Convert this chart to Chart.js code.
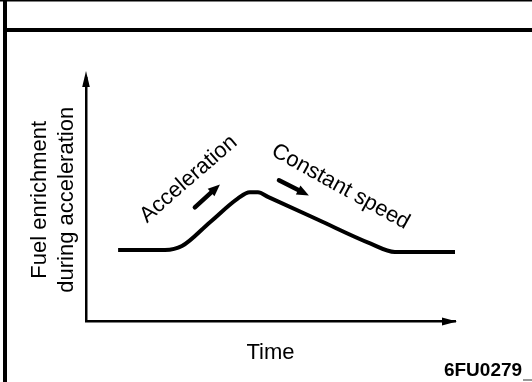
<!DOCTYPE html>
<html>
<head>
<meta charset="utf-8">
<script src="https://cdn.jsdelivr.net/npm/chart.js@4/dist/chart.umd.min.js"></script>
<style>
html, body { margin: 0; padding: 0; background: #fff; }
</style>
</head>
<body>
<canvas id="fuel-chart" width="532" height="382"></canvas>
<script>
// enrichment curve: flat, ramp up while accelerating, slow decay at constant speed
var timeVals   = [8.7, 21.4, 26.0, 33.6, 41.2, 44.4, 46.6, 49.3, 62.9, 77.0, 83.7, 100];
var enrichVals = [29.4, 29.4, 31.0, 40.8, 50.6, 53.1, 53.1, 51.2, 41.8, 32.1, 28.6, 28.6];
var xTitle = "Time";
var yTitle = ["Fuel enrichment", "during acceleration"];
var phaseLabels = ["Acceleration", "Constant speed"];
var figCode = "6FU0279";

var FONT = "'Liberation Sans', Arial, Helvetica, sans-serif";

function arrowHead(ctx, x, y, ang, len, half) {
    ctx.save();
    ctx.translate(x, y);
    ctx.rotate(ang);
    ctx.beginPath();
    ctx.moveTo(0, 0);
    ctx.lineTo(-len, -half);
    ctx.lineTo(-len, half);
    ctx.closePath();
    ctx.fill();
    ctx.restore();
}

// little thick arrow between two data points
function fatArrow(ctx, xs, ys, p0, p1) {
    var x0 = xs.getPixelForValue(p0[0]), y0 = ys.getPixelForValue(p0[1]);
    var x1 = xs.getPixelForValue(p1[0]), y1 = ys.getPixelForValue(p1[1]);
    var ang = Math.atan2(y1 - y0, x1 - x0);
    ctx.lineWidth = 4.5;
    ctx.lineCap = "round";
    ctx.beginPath();
    ctx.moveTo(x0, y0);
    ctx.lineTo(x1 - 8 * Math.cos(ang), y1 - 8 * Math.sin(ang));
    ctx.stroke();
    arrowHead(ctx, x1, y1, ang, 12, 5);
}

function tiltText(ctx, xs, ys, txt, at, deg) {
    ctx.save();
    ctx.translate(xs.getPixelForValue(at[0]), ys.getPixelForValue(at[1]));
    ctx.rotate(deg * Math.PI / 180);
    ctx.textAlign = "center";
    ctx.textBaseline = "middle";
    ctx.fillText(txt, 0, 0);
    ctx.restore();
}

var framePlugin = {
    id: "frame",
    beforeDraw: function(chart) {
        var ctx = chart.ctx;
        ctx.save();
        ctx.fillStyle = "#fff";
        ctx.fillRect(0, 0, chart.width, chart.height);
        ctx.fillStyle = "#000";
        ctx.fillRect(0, 0, chart.width, 1.5);
        ctx.fillRect(3, 0, 4, chart.height);
        ctx.fillRect(3, 28, chart.width - 3, 4);
        ctx.fillStyle = "#999";
        ctx.fillRect(chart.width - 9, 379, 9, 2);
        ctx.restore();
    }
};

var notesPlugin = {
    id: "notes",
    afterDraw: function(chart) {
        var ctx = chart.ctx, a = chart.chartArea;
        var xs = chart.scales.x, ys = chart.scales.y;
        ctx.save();
        ctx.fillStyle = "#000";
        ctx.strokeStyle = "#000";

        // axis arrowheads
        arrowHead(ctx, a.left, a.top - 7, -Math.PI / 2, 16, 3.8);
        arrowHead(ctx, a.right + 2, a.bottom, 0, 15, 4);

        ctx.font = "22px " + FONT;
        tiltText(ctx, xs, ys, phaseLabels[0], [27.8, 58.5], -41);
        tiltText(ctx, xs, ys, phaseLabels[1], [69.0, 55.3], 29);

        fatArrow(ctx, xs, ys, [29.5, 46.9], [36.3, 56.3]);
        fatArrow(ctx, xs, ys, [52.3, 58.0], [60.4, 51.8]);

        ctx.font = "bold 19px " + FONT;
        ctx.textAlign = "center";
        ctx.textBaseline = "alphabetic";
        ctx.fillText(figCode, 483, 376);
        ctx.restore();
    }
};

var fc = document.getElementById("fuel-chart").getContext("2d");
var fuelChart = new Chart(fc, {
    type: "line",
    data: {
        datasets: [{
            data: timeVals.map(function(t, i) { return { x: t, y: enrichVals[i] }; }),
            borderColor: "#000",
            borderWidth: 4,
            pointRadius: 0,
            fill: false,
            cubicInterpolationMode: "monotone"
        }]
    },
    options: {
        responsive: false,
        animation: false,
        events: [],
        layout: { padding: { left: 26, right: 77, top: 78, bottom: 6 } },
        plugins: {
            legend: { display: false },
            tooltip: { enabled: false }
        },
        scales: {
            x: {
                type: "linear",
                min: 0,
                max: 100,
                grid: { display: false },
                border: { display: true, color: "#000", width: 2.5 },
                ticks: { display: false },
                title: {
                    display: true,
                    text: xTitle,
                    color: "#000",
                    font: { family: FONT, size: 22 },
                    padding: { top: 10, bottom: 10 }
                }
            },
            y: {
                min: 0,
                max: 100,
                grid: { display: false },
                border: { display: true, color: "#000", width: 2.5 },
                ticks: { display: false },
                title: {
                    display: true,
                    text: yTitle,
                    color: "#000",
                    font: { family: FONT, size: 22, lineHeight: 1.25 },
                    padding: { top: 0, bottom: -3 }
                }
            }
        }
    },
    plugins: [framePlugin, notesPlugin]
});
</script>
</body>
</html>
